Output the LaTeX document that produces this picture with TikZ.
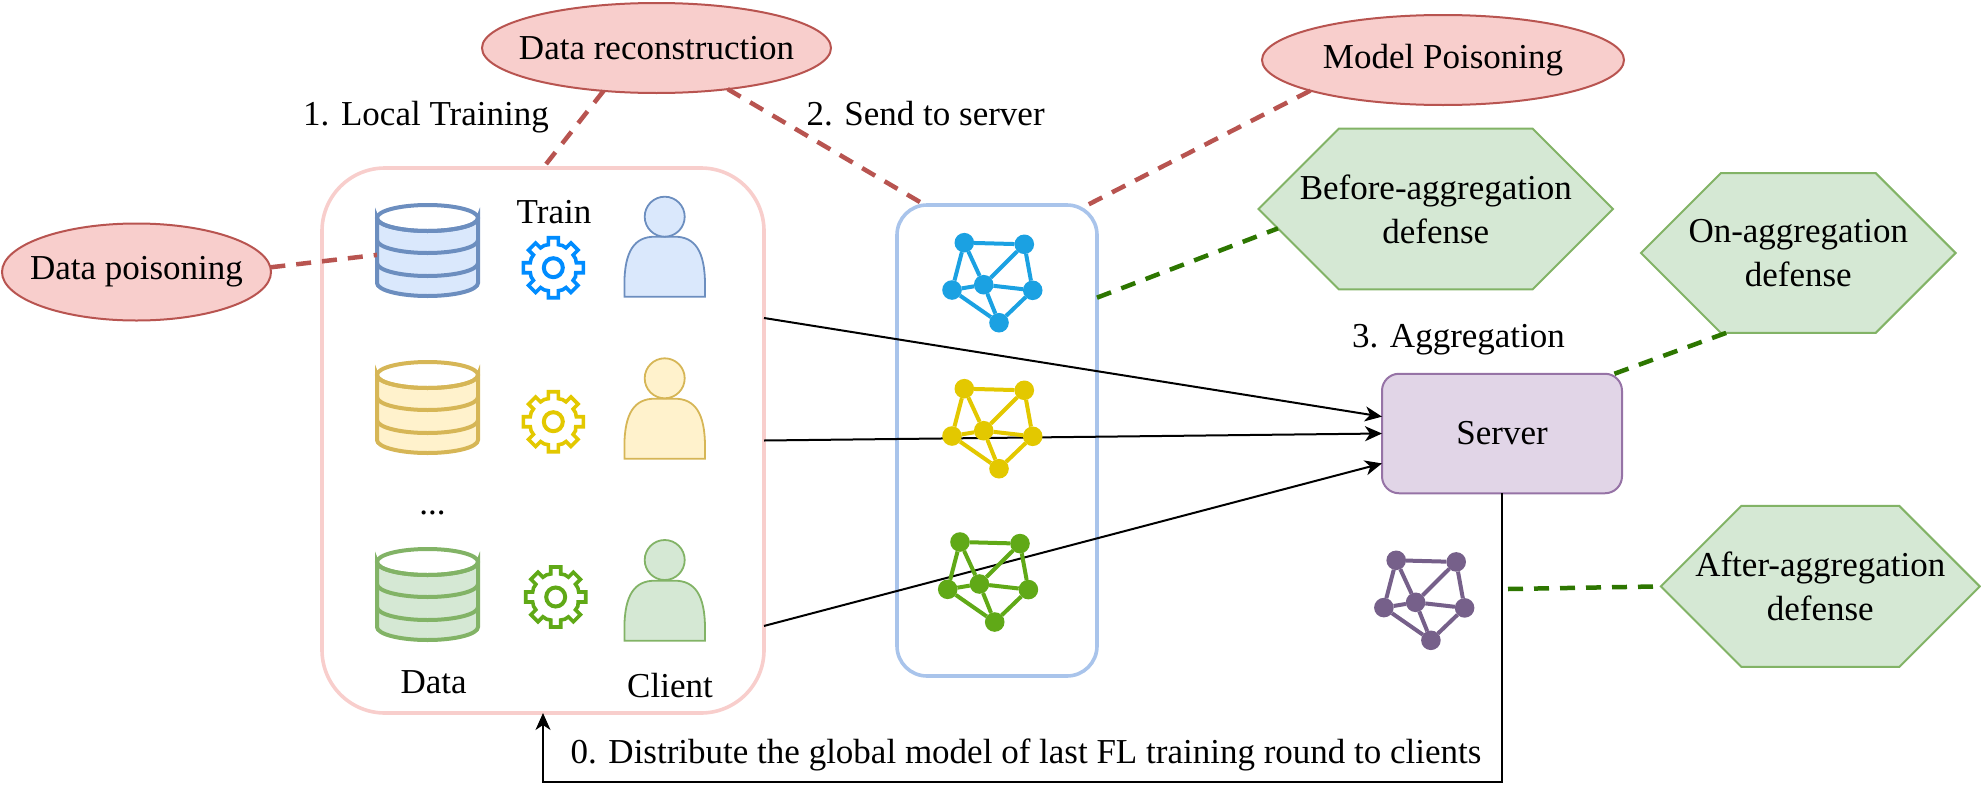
\documentclass[tikz,border=0pt]{standalone}
\usepackage{fontspec}
\setmainfont{Liberation Serif}
\usetikzlibrary{arrows.meta,shapes.geometric,shapes.misc,calc}
\definecolor{pinkf}{HTML}{F8CECC}
\definecolor{pinkd}{HTML}{B85450}
\definecolor{boxblue}{HTML}{A9C4EB}
\definecolor{dgreen}{HTML}{2D7600}
\definecolor{hexf}{HTML}{D5E8D4}
\definecolor{hexd}{HTML}{82B366}
\definecolor{purf}{HTML}{E1D5E7}
\definecolor{purd}{HTML}{9673A6}
\definecolor{bluef}{HTML}{DAE8FC}
\definecolor{blued}{HTML}{6C8EBF}
\definecolor{yelf}{HTML}{FFF2CC}
\definecolor{yeld}{HTML}{D6B656}
\definecolor{gearb}{HTML}{008CFF}
\definecolor{geary}{HTML}{E3C800}
\definecolor{gearg}{HTML}{60A917}
\definecolor{netb}{HTML}{1BA1E2}
\definecolor{netp}{HTML}{76608A}
\tikzset{
  threat/.style={ellipse,draw=pinkd,fill=pinkf,line width=2pt,inner sep=0pt,outer sep=0pt},
  defense/.style={chamfered rectangle,chamfered rectangle xsep=40pt,chamfered rectangle ysep=46pt,
    draw=hexd,fill=hexf,line width=2pt,inner sep=0pt,outer sep=0pt,align=center,minimum height=92pt},
  frame/.style={rectangle,draw,line width=3.6pt,inner sep=0pt,outer sep=0pt},
  attackline/.style={draw=pinkd,line width=4.5pt,dash pattern=on 15pt off 11pt},
  defline/.style={draw=dgreen,line width=4.5pt,dash pattern=on 15pt off 11pt},
  flow/.style={draw=black,line width=2pt,-{Stealth[length=17pt,width=15pt,inset=5pt]}},
  lbl/.style={inner sep=0pt,outer sep=0pt,anchor=base},
  netnode/.style={circle,inner sep=0pt,outer sep=0pt,minimum size=19.6pt},
  netedge/.style={line width=4pt},
  hold/.style={rectangle,inner sep=0pt,outer sep=0pt,minimum width=101pt,minimum height=91pt}
}
% #1 name, #2 cx, #3 ytop, #4 fill, #5 stroke
\newcommand{\dbicon}[5]{%
  \node[hold] (#1) at (#2,#3+45.5) {};
  \begin{scope}[shift={(#2,#3)}]
    \filldraw[fill=#4,draw=#5,line width=4pt]
      (-50.5,13) -- (-50.5,78) arc[start angle=180,end angle=360,x radius=50.5pt,y radius=13pt]
      -- (50.5,13) arc[start angle=0,end angle=-180,x radius=50.5pt,y radius=13pt] -- cycle;
    \draw[draw=#5,line width=4pt] (0,13) ellipse[x radius=50.5pt,y radius=13pt];
    \draw[draw=#5,line width=4pt] (-50.5,35) arc[start angle=180,end angle=360,x radius=50.5pt,y radius=13pt];
    \draw[draw=#5,line width=4pt] (-50.5,58) arc[start angle=180,end angle=360,x radius=50.5pt,y radius=13pt];
  \end{scope}}
% #1 cx, #2 cy, #3 colour
\newcommand{\gearicon}[3]{%
  \begin{scope}[shift={(#1,#2)}]
    \draw[draw=#3,line width=3.6pt,fill=white,line join=miter]
      (-12.5:23pt) \foreach \a in {0,45,...,315} {
        -- ($(\a:23pt)+(\a-90:5pt)$) -- ($(\a:30pt)+(\a-90:5pt)$) -- ($(\a:30pt)+(\a+90:5pt)$) -- ($(\a:23pt)+(\a+90:5pt)$)
        -- (\a+22.5:24pt)
      } -- cycle;
    \draw[draw=#3,line width=4pt] (0,0) circle[radius=9.5pt];
  \end{scope}}
% #1 cx, #2 y of body top, #3 y of head centre, #4 fill, #5 stroke
\newcommand{\personicon}[5]{%
  \begin{scope}[shift={(#1,#2)}]
    \filldraw[fill=#4,draw=#5,line width=1.8pt]
      (-40.3,60) -- (-40.3,48) .. controls (-40.3,14) and (-30,0) .. (-10,0) -- (10,0)
      .. controls (30,0) and (40.3,14) .. (40.3,48) -- (40.3,60) -- cycle;
  \end{scope}
  \filldraw[fill=#4,draw=#5,line width=1.8pt] (#1,#3) circle[radius=20pt];}
% #1 prefix, #2 x of hub, #3 y of hub, #4 colour
\newcommand{\neticon}[4]{%
  \node[netnode,fill=#4] (#1a) at (#2-19.4,#3-42) {};
  \node[netnode,fill=#4] (#1b) at (#2+40.6,#3-40.4) {};
  \node[netnode,fill=#4] (#1c) at (#2-31.7,#3+5.3) {};
  \node[netnode,fill=#4] (#1d) at (#2,#3) {};
  \node[netnode,fill=#4] (#1e) at (#2+49,#3+5.6) {};
  \node[netnode,fill=#4] (#1f) at (#2+15.3,#3+38) {};
  \draw[netedge,draw=#4] (#1a) -- (#1b) (#1a) -- (#1c) (#1a) -- (#1d) (#1b) -- (#1d) (#1b) -- (#1e)
    (#1c) -- (#1d) (#1d) -- (#1e) (#1c) -- (#1f) (#1d) -- (#1f) (#1e) -- (#1f);}
\begin{document}
\begin{tikzpicture}[x=1pt,y=-1pt,font={\fontsize{35}{44}\selectfont}]
\useasboundingbox (0,0) rectangle (1981,806);

% containers
\node[frame,draw=pinkf,rounded corners=63pt,minimum width=442pt,minimum height=545pt] (pink) at (543,440.5) {};
\node[frame,draw=boxblue,rounded corners=30pt,minimum width=200pt,minimum height=471pt] (blue) at (997,440.5) {};
\node[rectangle,draw=purd,fill=purf,line width=2pt,rounded corners=17pt,inner sep=0pt,outer sep=0pt,minimum width=240pt,minimum height=119.5pt] (server) at (1502,433.5) {Server};

% threats and defences
\node[threat,minimum width=349pt,minimum height=90pt,label={center:Data reconstruction}] (dr) at (656.5,48) {};
\node[threat,minimum width=269pt,minimum height=97pt,label={center:Data poisoning}] (dp) at (136.5,272) {};
\node[threat,minimum width=362pt,minimum height=90pt,label={center:Model Poisoning}] (mp) at (1443,60) {};
\node[defense,minimum width=354.5pt] (ba) at (1435.8,209) {Before-aggregation\\defense};
\node[defense,minimum width=314.6pt] (oa) at (1798.3,253) {On-aggregation\\defense};
\node[defense,minimum width=318.6pt] (aa) at (1820.3,586.4) {After-aggregation\\defense};

% data stores
\dbicon{dba}{427.5}{205}{bluef}{blued}
\dbicon{dbb}{427.5}{362}{yelf}{yeld}
\dbicon{dbc}{427.5}{549}{hexf}{hexd}

% dashed links
\coordinate (afterstart) at (1508,589);
\draw[attackline] (dr.-141) -- (pink.north);
\draw[attackline] (dr.-30) -- (blue.107.4);
\draw[attackline] (mp.-167) -- (blue.69.5);
\draw[attackline] (dp.2) -- (dba.185.7);
\draw[defline] (blue.55.1) -- (ba.-173.3);
\draw[defline] (server.28.3) -- (oa.-132.4);
\draw[defline] (afterstart) -- (aa.west);

% flows
\draw[flow] (pink.29.26) -- (server.172.5);
\draw[flow] (pink.-0.3) -- (server.west);
\draw[flow] (pink.-40.1) -- (server.194);
\coordinate (retc) at (543,782);
\draw[flow] (server.south) |- (retc) -- (pink.south);

% icons
\gearicon{553.3}{267.7}{gearb}
\gearicon{553.3}{421.7}{geary}
\gearicon{555.7}{597}{gearg}
\personicon{664.7}{236.7}{216.7}{bluef}{blued}
\personicon{664.7}{398.7}{378.3}{yelf}{yeld}
\personicon{664.7}{580.7}{560}{hexf}{hexd}
\neticon{nb}{983.7}{284.7}{netb}
\neticon{ny}{983.7}{430.7}{geary}
\neticon{ng}{979.4}{584}{gearg}
\neticon{np}{1415.6}{602.3}{netp}

% labels
\node[lbl] (t1) at (426,125) {1. Local Training};
\node[lbl] (t2) at (925.6,125) {2. Send to server};
\node[lbl] (t3) at (1458.5,347) {3. Aggregation};
\node[lbl] (t0) at (1026,763) {0. Distribute the global model of last FL training round to clients};
\node[lbl] (ttrain) at (554,223) {Train};
\node[lbl] (tdots) at (432.5,514) {...};
\node[lbl] (tdata) at (433.7,693) {Data};
\node[lbl] (tclient) at (670,697) {Client};
\end{tikzpicture}
\end{document}
